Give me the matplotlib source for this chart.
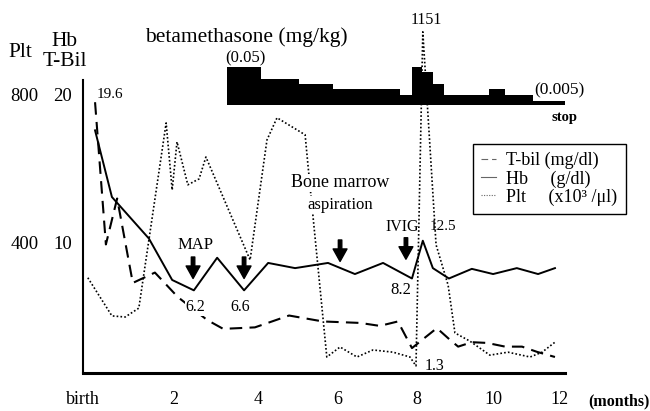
import matplotlib.pyplot as plt
import numpy as np

plt.rcParams['font.family'] = ['Liberation Serif', 'DejaVu Serif']

# values (x in months after birth)
hb_month = [0.30, 0.72, 1.64, 2.22, 2.76, 3.34, 4.01, 4.61, 5.28, 6.10, 6.77,
            7.47, 8.19, 8.46, 8.71, 9.11, 9.68, 10.21, 10.80, 11.33, 11.75]
hb_val = [17.6, 13.1, 10.3, 7.5, 6.8, 9.0, 6.8, 8.65, 8.3, 8.65, 7.9,
          8.65, 7.6, 10.15, 8.3, 7.6, 8.25, 7.9, 8.3, 7.9, 8.3]

tbil_month = [0.30, 0.57, 0.85, 1.24, 1.79, 2.36, 3.09, 3.49, 4.28, 5.13, 5.97,
              6.90, 7.39, 7.84, 8.19, 8.44, 8.81, 9.14, 9.34, 9.68, 10.06,
              10.51, 10.93, 11.30, 11.75]
tbil_val = [19.5, 9.9, 13.0, 7.3, 8.0, 6.35, 4.8, 4.2, 4.3, 5.1, 4.7,
            4.6, 4.4, 4.7, 2.9, 3.45, 4.25, 3.45, 3.0, 3.3, 3.25,
            3.0, 3.0, 2.65, 2.3]

plt_month = [0.12, 0.72, 1.05, 1.39, 2.07, 2.22, 2.34, 2.61, 2.89, 3.06, 4.16,
             4.58, 4.83, 5.53, 5.60, 6.07, 6.40, 6.82, 7.22, 7.72, 8.14, 8.29,
             8.46, 8.79, 9.09, 9.26, 9.63, 10.13, 10.58, 11.13, 11.43, 11.75]
plt_val = [306, 203, 200, 224, 724, 543, 673, 557, 573, 632, 354,
           678, 738, 692, 611, 92, 119, 92, 111, 105, 92, 68,
           970, 395, 286, 157, 135, 97, 105, 92, 105, 132]

beta_edges = [3.58, 4.43, 5.37, 6.22, 7.89, 8.19, 8.44, 8.71, 8.99, 10.11,
              10.51, 11.21, 12.05]
beta_dose = [0.05, 0.034, 0.028, 0.021, 0.013, 0.05, 0.043, 0.028, 0.013,
             0.021, 0.013, 0.005]

tick_pos = [0, 2.27, 4.36, 6.35, 8.31, 10.21, 11.87]
tick_labels = ['birth', '2', '4', '6', '8', '10', '12']

fig = plt.figure(figsize=(6.5, 4.11), dpi=100)
ax = fig.add_axes([83 / 650, 38 / 411, 482 / 650, 373 / 411])

ax.plot(tbil_month, tbil_val, color='black', lw=1.5, ls=(0, (6, 3.5)),
        label='T-bil (mg/dl)')
ax.plot(hb_month, hb_val, color='black', lw=1.4, label='Hb     (g/dl)')
ax.plot(plt_month, np.array(plt_val) / 40, color='black', lw=1.2,
        ls=(0, (1, 1.3)), label='Plt     (x10³ /μl)')

ax.set_xlim(0, 12)
ax.set_ylim(1.22, 26.4)
for s in ['top', 'right']:
    ax.spines[s].set_visible(False)
ax.spines['left'].set_bounds(1.22, 21.0)
ax.spines['left'].set_linewidth(1.5)
ax.spines['bottom'].set_linewidth(2.2)

ax.set_xticks(tick_pos)
ax.set_xticklabels(tick_labels)
ax.tick_params(axis='x', length=0, pad=13, labelsize=13)
ax.set_yticks([10, 20])
ax.tick_params(axis='y', length=0, pad=8, labelsize=13.5)

sec = ax.secondary_yaxis('left', functions=(lambda v: v * 40, lambda p: p / 40))
sec.set_yticks([400, 800])
sec.spines['left'].set_visible(False)
sec.tick_params(length=0, pad=32, labelsize=13.5)

# betamethasone dose steps
axb = fig.add_axes([83 / 650, 306 / 411, 482 / 650, 38 / 411], sharex=ax)
axb.stairs(beta_dose, beta_edges, fill=True, color='black', baseline=0)
axb.set_ylim(0, 0.05)
axb.axis('off')

# arrows
arrow = dict(facecolor='black', edgecolor='black', width=2.5, headwidth=10,
             headlength=9, shrink=0)
for xm, top, tip in [(2.74, 9.05, 7.6), (4.01, 9.05, 7.6),
                     (6.40, 10.2, 8.75), (8.04, 10.35, 8.9)]:
    ax.annotate('', xy=(xm, tip), xytext=(xm, top), arrowprops=arrow)

wb = dict(facecolor='white', edgecolor='none', pad=0.5)
ax.text(0.35, 20.0, '19.6', fontsize=11, ha='left', va='center')
ax.text(2.79, 9.86, 'MAP', fontsize=12, ha='center', va='center')
ax.text(2.79, 5.68, '6.2', fontsize=11.5, ha='center', va='center', bbox=wb)
ax.text(3.91, 5.68, '6.6', fontsize=11.5, ha='center', va='center', bbox=wb)
ax.text(6.40, 14.05, 'Bone marrow', fontsize=13, ha='center', va='center', bbox=wb)
ax.text(6.40, 12.57, 'aspiration', fontsize=12, ha='center', va='center', bbox=wb)
ax.text(7.94, 11.08, 'IVIG', fontsize=11.5, ha='center', va='center')
ax.text(8.96, 11.08, '12.5', fontsize=11, ha='center', va='center')
ax.text(7.92, 6.82, '8.2', fontsize=12, ha='center', va='center')
ax.text(8.76, 1.69, '1.3', fontsize=11.5, ha='center', va='center')

fig.text(145 / 650, 1 - 37 / 411, 'betamethasone (mg/kg)', fontsize=15.5,
         ha='left', va='center')
fig.text(245 / 650, 1 - 58 / 411, '(0.05)', fontsize=12, ha='center', va='center')
fig.text(426 / 650, 1 - 20 / 411, '1151', fontsize=11.5, ha='center', va='center')
fig.text(559 / 650, 1 - 90 / 411, '(0.005)', fontsize=12.5, ha='center', va='center')
fig.text(565 / 650, 1 - 117 / 411, 'stop', fontsize=10.5, fontweight='bold',
         ha='center', va='center')

fig.text(20 / 650, 1 - 52 / 411, 'Plt', fontsize=15.5, ha='center', va='center')
fig.text(65 / 650, 1 - 41 / 411, 'Hb', fontsize=15.5, ha='center', va='center')
fig.text(65 / 650, 1 - 62 / 411, 'T-Bil', fontsize=15.5, ha='center', va='center')
fig.text(619 / 650, 1 - 401 / 411, '(months)', fontsize=11.5, fontweight='bold',
         ha='center', va='center')

leg = ax.legend(loc='upper left', bbox_to_anchor=(473 / 650, 1 - 144 / 411),
                bbox_transform=fig.transFigure, borderaxespad=0, fontsize=13,
                handlelength=0.8, handletextpad=0.6, labelspacing=0.05,
                borderpad=0.45, fancybox=False, framealpha=1)
leg.get_frame().set_edgecolor('black')
leg.get_frame().set_linewidth(1.0)
for h in leg.get_lines():
    h.set_linewidth(0.8)
    h.set_color('0.4')

fig.savefig('out.png', dpi=100)
